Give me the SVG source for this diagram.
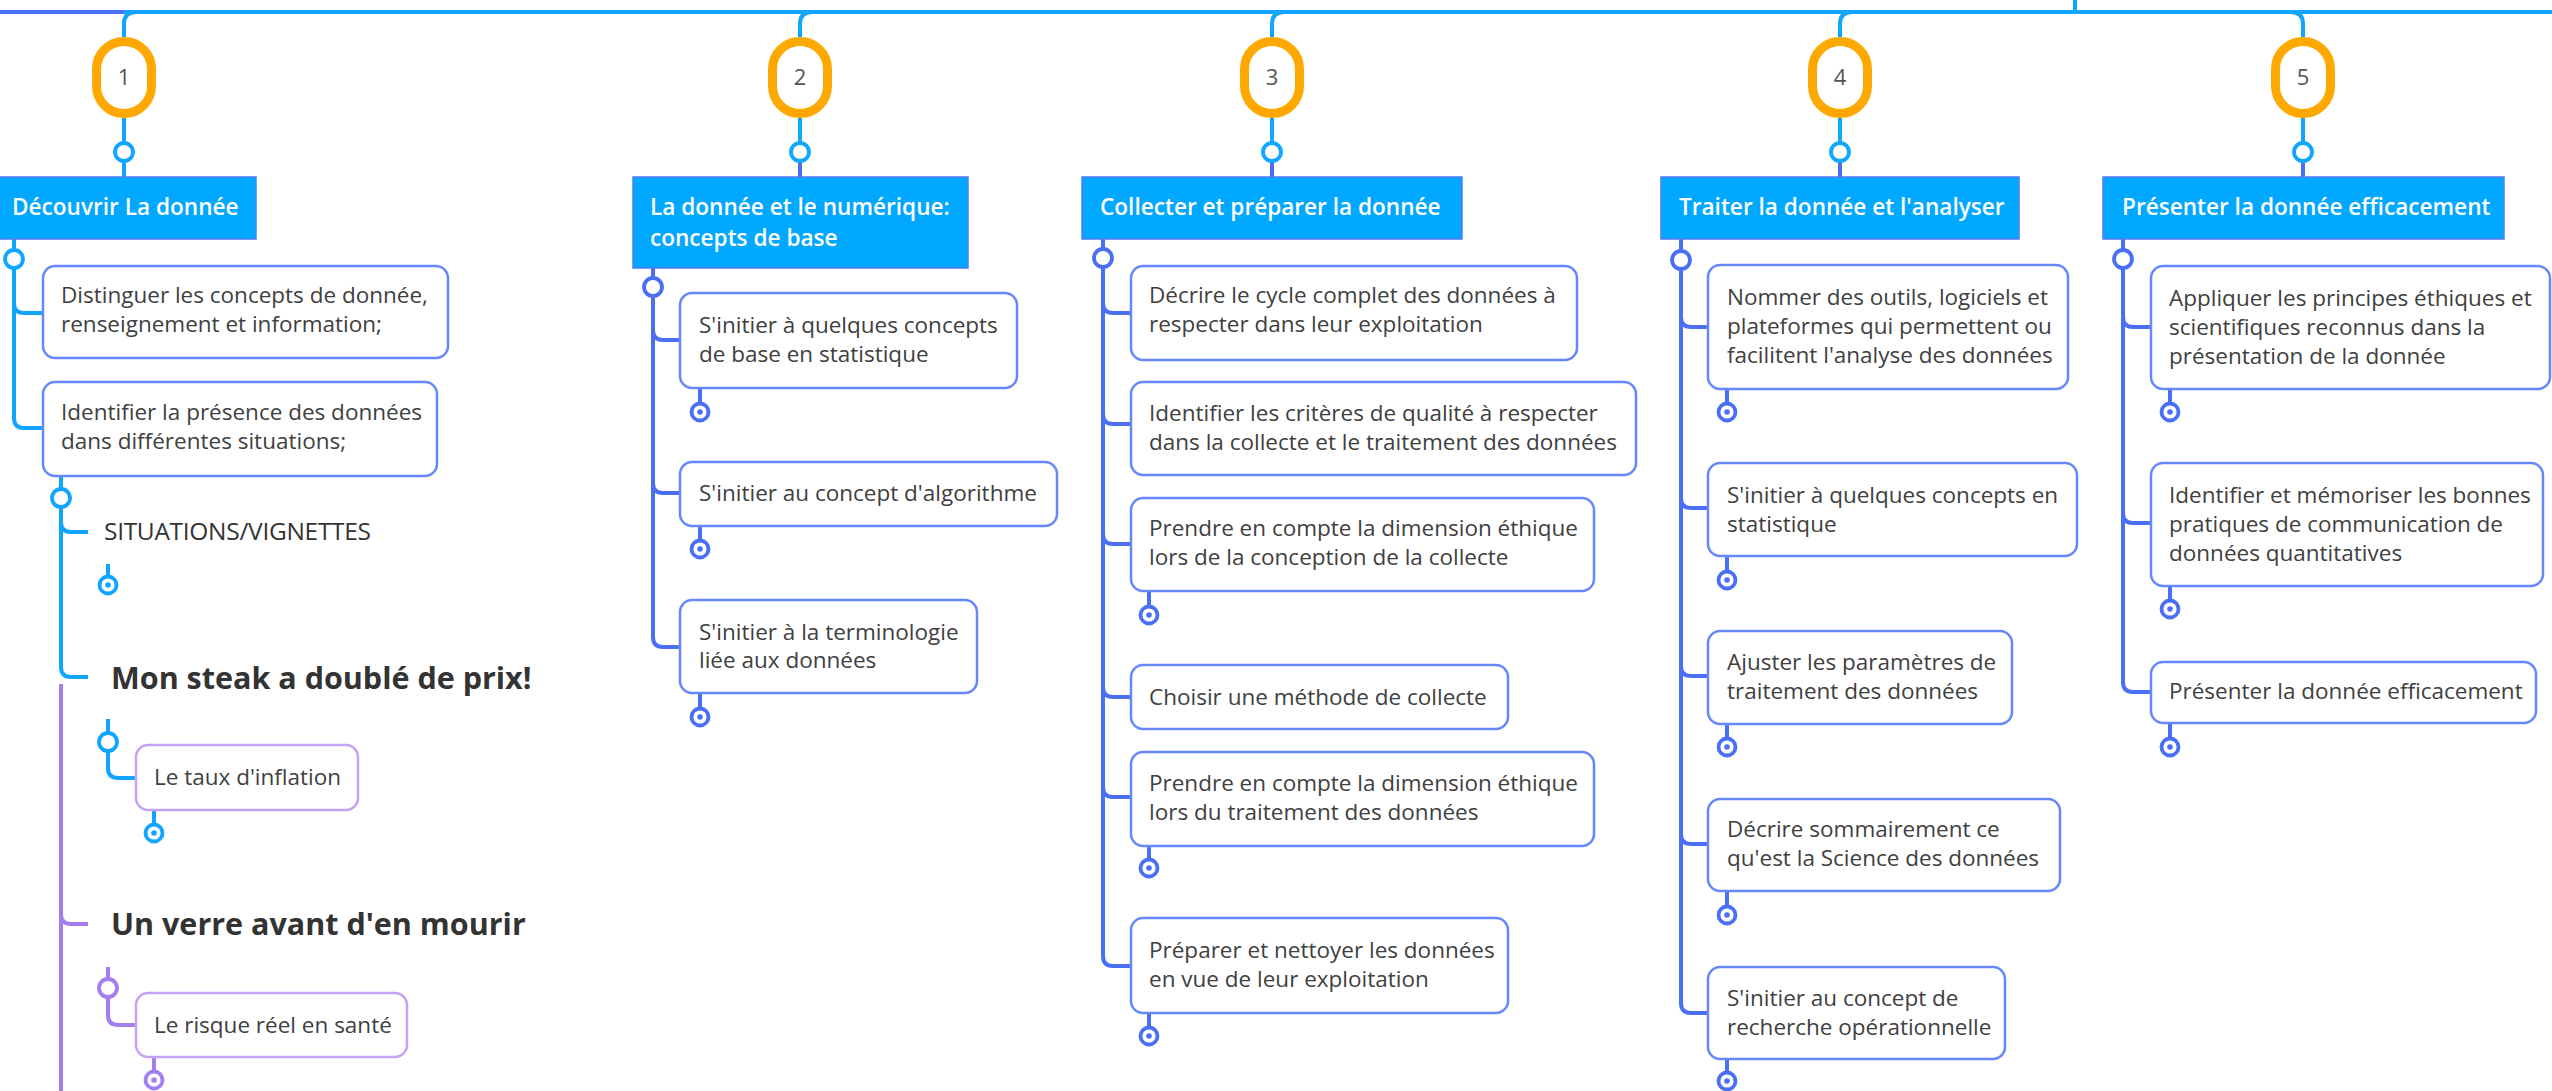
<svg xmlns="http://www.w3.org/2000/svg" width="2552" height="1091" viewBox="0 0 2552 1091">
<style>
text{font-family:"Open Sans","Liberation Sans",sans-serif}
.main{fill:#00a8ff;stroke:#4f7cf5;stroke-width:1.5}
.mt{fill:#fff;font-size:22.6px;font-weight:600}
.box{fill:#fff;stroke:#6688fa;stroke-width:2.5}
.pbox{fill:#fff;stroke:#c3a2f7;stroke-width:2.5}
.t{fill:#404040;font-size:22.5px}
.big{fill:#333;font-size:30.5px;font-weight:700}
.cap{fill:#333;font-size:24.5px;font-weight:500;letter-spacing:-0.3px}
.badge{fill:#fff;stroke:#ffa800;stroke-width:9}
.num{fill:#555;font-size:22px;text-anchor:middle}
.sky{fill:none;stroke:#10a6ff;stroke-width:4}
.ind{fill:none;stroke:#4b6ff4;stroke-width:4}
.pur{fill:none;stroke:#a47ef0;stroke-width:4}
.ring{fill:#fff;stroke-width:3.8}
.rs{stroke:#10a6ff}.ri{stroke:#4b6ff4}.rp{stroke:#a47ef0}
</style>
<defs>
<g id="fs"><circle r="8.5" fill="#fff" stroke="#10a6ff" stroke-width="3.8"/><circle r="2.8" fill="#10a6ff"/></g>
<g id="fi"><circle r="8.5" fill="#fff" stroke="#4b6ff4" stroke-width="3.8"/><circle r="2.8" fill="#4b6ff4"/></g>
<g id="fp"><circle r="8.5" fill="#fff" stroke="#a47ef0" stroke-width="3.8"/><circle r="2.8" fill="#a47ef0"/></g>
</defs>

<g id="connectors">
<path class="ind" d="M0,12 H124"/>
<path class="sky" d="M124,12 H2552 M2075,0 V12"/>
<path class="sky" d="M124,37 V24 Q124,12 136,12 M800,37 V24 Q800,12 812,12 M1272,37 V24 Q1272,12 1284,12 M1840,37 V24 Q1840,12 1852,12 M2303,37 V24 Q2303,12 2291,12"/>
<path class="sky" d="M124,118 V143 M800,118 V143 M1272,118 V143 M1840,118 V143 M2303,118 V143"/>
<path class="sky" d="M124,161 V177"/>
<path class="ind" d="M800,161 V177 M1272,161 V177 M1840,161 V177 M2303,161 V177"/>
<!-- column 1 -->
<path class="sky" d="M14,239 V250 M14,268 V303 Q14,313 24,313 H43 M14,268 V418 Q14,428 24,428 H43"/>
<path class="sky" d="M61,476 V489 M61,507 V522 Q61,532 71,532 H88 M61,507 V667 Q61,677 71,677 H88"/>
<path class="pur" d="M61,684 V1091 M61,684 V914 Q61,924 71,924 H88"/>
<path class="sky" d="M108,564 V577 M108,719 V733 M108,751 V768 Q108,778 118,778 H136 M154,810 V825"/>
<path class="pur" d="M108,967 V979 M108,997 V1015 Q108,1025 118,1025 H136 M154,1057 V1072"/>
<!-- column 2 -->
<path class="ind" d="M653,268 V278 M653,296 V330 Q653,340 663,340 H680 M653,296 V483 Q653,493 663,493 H680 M653,296 V637 Q653,647 663,647 H680 M700,388 V404 M700,526 V541 M700,693 V709"/>
<!-- column 3 -->
<path class="ind" d="M1103,239 V249 M1103,267 V303 Q1103,313 1113,313 H1131 M1103,267 V414 Q1103,424 1113,424 H1131 M1103,267 V534 Q1103,544 1113,544 H1131 M1103,267 V687 Q1103,697 1113,697 H1131 M1103,267 V787 Q1103,797 1113,797 H1131 M1103,267 V956 Q1103,966 1113,966 H1131 M1149,591 V607 M1149,846 V860 M1149,1013 V1028"/>
<!-- column 4 -->
<path class="ind" d="M1681,239 V251 M1681,269 V317 Q1681,327 1691,327 H1708 M1681,269 V498 Q1681,508 1691,508 H1708 M1681,269 V666 Q1681,676 1691,676 H1708 M1681,269 V834 Q1681,844 1691,844 H1708 M1681,269 V1003 Q1681,1013 1691,1013 H1708 M1727,389 V404 M1727,556 V572 M1727,724 V739 M1727,891 V907 M1727,1059 V1073"/>
<!-- column 5 -->
<path class="ind" d="M2123,239 V250 M2123,268 V317 Q2123,327 2133,327 H2151 M2123,268 V513 Q2123,523 2133,523 H2151 M2123,268 V682 Q2123,692 2133,692 H2151 M2170,389 V404 M2170,586 V601 M2170,723 V739"/>
<!-- rings -->
<circle class="ring rs" cx="124" cy="152" r="9"/>
<circle class="ring rs" cx="800" cy="152" r="9"/>
<circle class="ring rs" cx="1272" cy="152" r="9"/>
<circle class="ring rs" cx="1840" cy="152" r="9"/>
<circle class="ring rs" cx="2303" cy="152" r="9"/>
<circle class="ring rs" cx="14" cy="259" r="9"/>
<circle class="ring rs" cx="61" cy="498" r="9"/>
<circle class="ring rs" cx="108" cy="742" r="9"/>
<circle class="ring rp" cx="108" cy="988" r="9"/>
<circle class="ring ri" cx="653" cy="287" r="9"/>
<circle class="ring ri" cx="1103" cy="258" r="9"/>
<circle class="ring ri" cx="1681" cy="260" r="9"/>
<circle class="ring ri" cx="2123" cy="259" r="9"/>
<!-- fold markers -->
<use href="#fs" x="108" y="585"/>
<use href="#fs" x="154" y="833"/>
<use href="#fp" x="154" y="1080"/>
<use href="#fi" x="700" y="412"/>
<use href="#fi" x="700" y="549"/>
<use href="#fi" x="700" y="717"/>
<use href="#fi" x="1149" y="615"/>
<use href="#fi" x="1149" y="868"/>
<use href="#fi" x="1149" y="1036"/>
<use href="#fi" x="1727" y="412"/>
<use href="#fi" x="1727" y="580"/>
<use href="#fi" x="1727" y="747"/>
<use href="#fi" x="1727" y="915"/>
<use href="#fi" x="1727" y="1081"/>
<use href="#fi" x="2170" y="412"/>
<use href="#fi" x="2170" y="609"/>
<use href="#fi" x="2170" y="747"/>
</g>

<!-- badges -->
<g id="badge1"><rect class="badge" x="96.5" y="41.5" width="55" height="72" rx="27.5"/><text class="num" x="124" y="85">1</text></g>
<g id="badge2"><rect class="badge" x="772.5" y="41.5" width="55" height="72" rx="27.5"/><text class="num" x="800" y="85">2</text></g>
<g id="badge3"><rect class="badge" x="1244.5" y="41.5" width="55" height="72" rx="27.5"/><text class="num" x="1272" y="85">3</text></g>
<g id="badge4"><rect class="badge" x="1812.5" y="41.5" width="55" height="72" rx="27.5"/><text class="num" x="1840" y="85">4</text></g>
<g id="badge5"><rect class="badge" x="2275.5" y="41.5" width="55" height="72" rx="27.5"/><text class="num" x="2303" y="85">5</text></g>

<!-- column 1 -->
<g id="topic1"><rect class="main" x="-4" y="177" width="260" height="62"/><text class="mt" x="12" y="215">Découvrir La donnée</text></g>
<g id="n1a"><rect class="box" x="43" y="266" width="405" height="92" rx="12"/><text class="t" x="61" y="303">Distinguer les concepts de donnée,</text><text class="t" x="61" y="332">renseignement et information;</text></g>
<g id="n1b"><rect class="box" x="43" y="382" width="394" height="94" rx="12"/><text class="t" x="61" y="420">Identifier la présence des données</text><text class="t" x="61" y="449">dans différentes situations;</text></g>
<g id="n1c"><text class="cap" x="104" y="540">SITUATIONS/VIGNETTES</text></g>
<g id="n1d"><text class="big" x="111" y="689">Mon steak a doublé de prix!</text></g>
<g id="n1e"><rect class="pbox" x="136" y="745" width="222" height="65" rx="12"/><text class="t" x="154" y="785">Le taux d'inflation</text></g>
<g id="n1f"><text class="big" x="111" y="935">Un verre avant d'en mourir</text></g>
<g id="n1g"><rect class="pbox" x="136" y="993" width="271" height="64" rx="12"/><text class="t" x="154" y="1033">Le risque réel en santé</text></g>

<!-- column 2 -->
<g id="topic2"><rect class="main" x="633" y="177" width="335" height="91"/><text class="mt" x="650" y="215">La donnée et le numérique:</text><text class="mt" x="650" y="246">concepts de base</text></g>
<g id="n2a"><rect class="box" x="680" y="293" width="337" height="95" rx="12"/><text class="t" x="699" y="333">S'initier à quelques concepts</text><text class="t" x="699" y="362">de base en statistique</text></g>
<g id="n2b"><rect class="box" x="680" y="462" width="377" height="64" rx="12"/><text class="t" x="699" y="501">S'initier au concept d'algorithme</text></g>
<g id="n2c"><rect class="box" x="680" y="600" width="297" height="93" rx="12"/><text class="t" x="699" y="640">S'initier à la terminologie</text><text class="t" x="699" y="668">liée aux données</text></g>

<!-- column 3 -->
<g id="topic3"><rect class="main" x="1082" y="177" width="380" height="62"/><text class="mt" x="1100" y="215">Collecter et préparer la donnée</text></g>
<g id="n3a"><rect class="box" x="1131" y="266" width="446" height="94" rx="12"/><text class="t" x="1149" y="303">Décrire le cycle complet des données à</text><text class="t" x="1149" y="332">respecter dans leur exploitation</text></g>
<g id="n3b"><rect class="box" x="1131" y="382" width="505" height="93" rx="12"/><text class="t" x="1149" y="421">Identifier les critères de qualité à respecter</text><text class="t" x="1149" y="450">dans la collecte et le traitement des données</text></g>
<g id="n3c"><rect class="box" x="1131" y="498" width="463" height="93" rx="12"/><text class="t" x="1149" y="536">Prendre en compte la dimension éthique</text><text class="t" x="1149" y="565">lors de la conception de la collecte</text></g>
<g id="n3d"><rect class="box" x="1131" y="665" width="377" height="64" rx="12"/><text class="t" x="1149" y="705">Choisir une méthode de collecte</text></g>
<g id="n3e"><rect class="box" x="1131" y="752" width="463" height="94" rx="12"/><text class="t" x="1149" y="791">Prendre en compte la dimension éthique</text><text class="t" x="1149" y="820">lors du traitement des données</text></g>
<g id="n3f"><rect class="box" x="1131" y="918" width="377" height="95" rx="12"/><text class="t" x="1149" y="958">Préparer et nettoyer les données</text><text class="t" x="1149" y="987">en vue de leur exploitation</text></g>

<!-- column 4 -->
<g id="topic4"><rect class="main" x="1661" y="177" width="358" height="62"/><text class="mt" x="1679" y="215">Traiter la donnée et l'analyser</text></g>
<g id="n4a"><rect class="box" x="1708" y="265" width="360" height="124" rx="12"/><text class="t" x="1727" y="305">Nommer des outils, logiciels et</text><text class="t" x="1727" y="334">plateformes qui permettent ou</text><text class="t" x="1727" y="363">facilitent l'analyse des données</text></g>
<g id="n4b"><rect class="box" x="1708" y="463" width="369" height="93" rx="12"/><text class="t" x="1727" y="503">S'initier à quelques concepts en</text><text class="t" x="1727" y="532">statistique</text></g>
<g id="n4c"><rect class="box" x="1708" y="631" width="304" height="93" rx="12"/><text class="t" x="1727" y="670">Ajuster les paramètres de</text><text class="t" x="1727" y="699">traitement des données</text></g>
<g id="n4d"><rect class="box" x="1708" y="799" width="352" height="92" rx="12"/><text class="t" x="1727" y="837">Décrire sommairement ce</text><text class="t" x="1727" y="866">qu'est la Science des données</text></g>
<g id="n4e"><rect class="box" x="1708" y="967" width="297" height="92" rx="12"/><text class="t" x="1727" y="1006">S'initier au concept de</text><text class="t" x="1727" y="1035">recherche opérationnelle</text></g>

<!-- column 5 -->
<g id="topic5"><rect class="main" x="2103" y="177" width="401" height="62"/><text class="mt" x="2122" y="215">Présenter la donnée efficacement</text></g>
<g id="n5a"><rect class="box" x="2151" y="266" width="399" height="123" rx="12"/><text class="t" x="2169" y="306">Appliquer les principes éthiques et</text><text class="t" x="2169" y="335">scientifiques reconnus dans la</text><text class="t" x="2169" y="364">présentation de la donnée</text></g>
<g id="n5b"><rect class="box" x="2151" y="463" width="392" height="123" rx="12"/><text class="t" x="2169" y="503">Identifier et mémoriser les bonnes</text><text class="t" x="2169" y="532">pratiques de communication de</text><text class="t" x="2169" y="561">données quantitatives</text></g>
<g id="n5c"><rect class="box" x="2151" y="662" width="385" height="61" rx="12"/><text class="t" x="2169" y="699">Présenter la donnée efficacement</text></g>
</svg>
